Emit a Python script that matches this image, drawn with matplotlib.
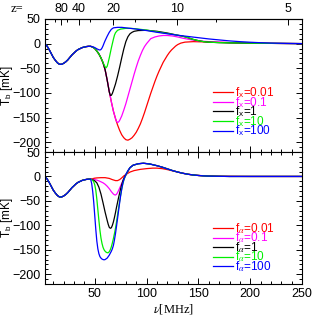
import matplotlib
matplotlib.use("Agg")
import matplotlib.pyplot as plt
import numpy as np
from matplotlib.ticker import MultipleLocator, FixedLocator, NullFormatter

plt.rcParams["font.family"] = ["Liberation Sans", "DejaVu Sans"]
plt.rcParams["mathtext.fontset"] = "stix"
plt.rcParams["axes.linewidth"] = 0.8

# ---- data (nu in MHz, Tb in mK) ----
# all models agree below ~46 MHz
NU_EARLY = [2, 4, 6, 8, 10, 12, 14, 16, 18, 20, 22, 24, 26, 28, 30, 32, 34, 36, 38, 40, 42, 44, 46]
TB_EARLY = [0, -5, -12, -20, -28, -34, -39, -42, -42, -40, -37, -33, -28, -23, -19, -15, -12, -10, -8, -7, -6, -5.5, -5.5]

# top panel: X-ray efficiency f_x
NU_FX001 = [48, 50, 52, 54, 56, 58, 60, 62, 64, 66, 68, 70, 72, 74, 76, 78, 80, 82, 84, 86, 88, 90, 92, 94, 96, 98,
            100, 102, 104, 106, 108, 110, 112, 114, 116, 118, 120, 122, 124, 126, 128, 130, 133, 137, 145, 155, 165,
            180, 200, 220, 250]
TB_FX001 = [-7, -10, -15, -21, -29, -39, -53, -74, -97, -118, -137, -152, -165, -176, -185, -191, -195, -196, -194,
            -191, -186, -180, -172, -163, -152, -140, -127, -114, -101, -89, -77, -66, -56, -47, -38, -31, -24, -18,
            -13, -9, -5, -2, 1, 3, 4, 3.5, 3, 2, 1, 0.5, 0]
NU_FX01 = [48, 50, 52, 54, 56, 58, 60, 62, 64, 66, 68, 70, 71, 72, 73, 74, 76, 78, 80, 82, 84, 86, 88, 90, 92, 94, 96,
           98, 100, 104, 108, 112, 116, 120, 125, 130, 135, 140, 145, 150, 160, 170, 180, 200, 220, 250]
TB_FX01 = [-7, -10, -15, -21, -29, -39, -53, -74, -97, -118, -137, -152, -158, -160, -159, -156, -147, -135, -122,
           -107, -92, -77, -62, -48, -35, -24, -14, -6, 0, 10, 13.5, 15.5, 16.5, 16.5, 15.5, 13.5, 11, 9, 7, 5.5, 4,
           3, 2, 1, 0.5, 0]
NU_FX1 = [48, 50, 52, 54, 56, 58, 60, 62, 63, 64, 65, 66, 67, 68, 70, 72, 74, 76, 78, 80, 82, 84, 86, 88, 92, 100,
          110, 120, 130, 135, 140, 145, 150, 155, 160, 170, 180, 200, 220, 250]
TB_FX1 = [-7, -10, -15, -21, -29, -39, -53, -74, -86, -98, -105, -105, -101, -95, -82, -66, -48, -29, -11, 4, 14, 20,
          23, 25, 26.5, 27, 25, 21.5, 17, 15, 12, 8.5, 6, 4, 3, 2, 1.5, 1, 0.5, 0]
NU_FX10 = [48, 50, 52, 54, 56, 58, 59, 60, 61, 62, 63, 64, 65, 66, 67, 68, 69, 70, 72, 75, 80, 85, 90, 100, 110, 120,
           130, 135, 140, 145, 150, 155, 160, 170, 180, 200, 220, 250]
TB_FX10 = [-7, -10, -15, -21, -29, -38, -43, -47, -49, -46, -38, -29, -19, -9, 0, 9, 17, 22, 27, 29.5, 31, 31, 30,
           27.5, 24, 20.5, 17, 15, 12, 8.5, 6, 4, 3, 2, 1.5, 1, 0.5, 0]
NU_FX100 = [48, 50, 52, 54, 55, 56, 57, 58, 59, 60, 62, 64, 66, 68, 72, 76, 80, 90, 100, 110, 120, 130, 140, 150, 160,
            170, 180, 190, 200, 210, 220, 235, 250]
TB_FX100 = [-6.5, -8, -10.5, -12.5, -13, -12, -9, -4.5, 1, 6, 15, 23, 29, 32, 33, 33, 32, 29.5, 26.5, 23, 20, 17,
            14.5, 12, 9.5, 7.5, 5.5, 4, 2.8, 1.8, 1, 0.4, 0]

# bottom panel: Lyman-alpha efficiency f_alpha
NU_LATE = [84, 87, 92, 97, 103, 110, 115, 120, 125, 130, 135, 140, 145, 150, 155, 160, 170, 180, 250]
TB_LATE = [18, 23, 26, 27, 25.5, 22, 19, 15.5, 12, 9, 6.5, 4.5, 3, 2, 1.2, 0.7, 0.3, 0, 0]
NU_FA001 = [48, 50, 52, 56, 60, 64, 67, 70, 72, 74, 76, 78, 80, 84, 88, 94, 100, 106, 110, 115, 120, 125, 130, 135,
            140, 145, 150, 160, 170, 200, 250]
TB_FA001 = [-4.5, -3.5, -3, -2.5, -2.5, -4, -6.5, -8.5, -8.5, -6.5, -3, 1, 4, 9, 12, 14.5, 16, 17, 17, 16, 14, 11.5,
            9, 6.5, 4.5, 3, 2, 1, 0.5, 0, 0]
NU_FA01 = [48, 50, 52, 54, 56, 58, 60, 62, 64, 66, 68, 69, 70, 71, 72, 74, 76, 78, 80, 82]
TB_FA01 = [-6, -6.5, -7.5, -9, -11, -13, -16, -20, -25, -31, -36, -37.5, -38, -36.5, -33, -24, -14, -5, 2.5, 10]
NU_FA1 = [48, 50, 52, 54, 56, 58, 60, 62, 63, 64, 65, 66, 67, 68, 69, 70, 71, 72, 73, 74, 75, 76, 77, 78, 79, 80, 82]
TB_FA1 = [-7, -9, -13, -22, -36, -54, -73, -90, -98, -104, -106, -105, -100, -93, -84, -74, -63, -53, -43, -34, -25,
          -17, -10, -4, 0, 3.5, 11]
NU_FA10 = [47, 48, 49, 50, 51, 52, 53, 54, 55, 56, 57, 58, 59, 60, 61, 62, 63, 64, 65, 66, 67, 68, 69, 70, 71, 72,
           73, 74, 75, 76, 77, 78, 79, 80, 82]
TB_FA10 = [-6.5, -8, -11, -17, -28, -46, -68, -90, -110, -126, -137, -145, -150, -153, -155, -156, -156, -154, -150,
           -144, -136, -127, -117, -106, -93, -79, -65, -51, -38, -26, -16, -8, -2, 3, 11]
NU_FA100 = [47, 48, 49, 50, 51, 52, 53, 54, 55, 56, 57, 58, 59, 60, 62, 64, 66, 67, 68, 69, 70, 71, 72, 73, 74, 75,
            76, 77, 78, 79, 80, 82]
TB_FA100 = [-14, -30, -52, -80, -108, -132, -148, -158, -164, -167, -169, -170, -170.5, -170, -167, -161, -153, -148,
            -141, -130, -117, -102, -86, -70, -54, -39, -26, -15, -7, -1, 4, 12]

COLORS = ["#ff0000", "#ff00ff", "#000000", "#00ee00", "#0000ff"]
FX_LABELS = [r"f$_\mathregular{x}$=0.01", r"f$_\mathregular{x}$=0.1", r"f$_\mathregular{x}$=1",
             r"f$_\mathregular{x}$=10", r"f$_\mathregular{x}$=100"]
FA_LABELS = [r"f$_\alpha$=0.01", r"f$_\alpha$=0.1", r"f$_\alpha$=1", r"f$_\alpha$=10", r"f$_\alpha$=100"]
Z_MAJOR = [80, 40, 20, 10, 5]
Z_MINOR = [120, 60, 30, 15, 12, 7.5]

top_series = [(NU_FX001, TB_FX001), (NU_FX01, TB_FX01), (NU_FX1, TB_FX1), (NU_FX10, TB_FX10), (NU_FX100, TB_FX100)]
# third item: curve joins the common late-time curve
bot_series = [(NU_FA001, TB_FA001, False), (NU_FA01, TB_FA01, True), (NU_FA1, TB_FA1, True),
              (NU_FA10, TB_FA10, True), (NU_FA100, TB_FA100, True)]


def nu_to_z(nu):
    nu = np.asarray(nu, dtype=float)
    with np.errstate(divide="ignore", invalid="ignore"):
        return 1420.4 / nu - 1.0


def z_to_nu(z):
    z = np.asarray(z, dtype=float)
    with np.errstate(divide="ignore", invalid="ignore"):
        return 1420.4 / (z + 1.0)


fig = plt.figure(figsize=(3.19, 3.19), dpi=100)
ax1 = fig.add_axes([0.141, 0.5235, 0.806, 0.417])
ax2 = fig.add_axes([0.141, 0.1097, 0.806, 0.4138])

for i, (nu, tb) in enumerate(top_series):
    ax1.plot(NU_EARLY + nu, TB_EARLY + tb, color=COLORS[i], lw=0.9, label=FX_LABELS[i])

for i, (nu, tb, late) in enumerate(bot_series):
    if late:
        nu = nu + NU_LATE
        tb = tb + TB_LATE
    ax2.plot(NU_EARLY + nu, TB_EARLY + tb, color=COLORS[i], lw=0.9, label=FA_LABELS[i])

for ax, ly in ((ax1, 0.5), (ax2, 0.475)):
    ax.set_xlim(2, 250)
    ax.set_ylim(-220, 50)
    ax.xaxis.set_major_locator(MultipleLocator(50))
    ax.xaxis.set_minor_locator(MultipleLocator(10))
    ax.yaxis.set_major_locator(MultipleLocator(50))
    ax.yaxis.set_minor_locator(MultipleLocator(10))
    ax.tick_params(which="both", direction="in", right=True, labelsize=9, width=0.7, pad=3)
    ax.tick_params(which="major", length=4)
    ax.tick_params(which="minor", length=2)
    ax.set_ylabel(r"T$_\mathregular{b}$ [mK]", fontsize=8.5)
    ax.yaxis.set_label_coords(-0.118, 0.5)
    ax.legend(loc="upper left", bbox_to_anchor=(0.655, ly), frameon=False, labelcolor="linecolor",
              handlelength=1.7, handletextpad=0.1, labelspacing=-0.42, fontsize=8.5, borderpad=0,
              borderaxespad=0)

ax1.tick_params(which="both", top=False, labelbottom=False)
ax2.tick_params(which="both", top=True)
ax2.set_xlabel(r"$\nu$[MHz]", fontsize=9, family="Liberation Serif", labelpad=1)

secax = ax1.secondary_xaxis("top", functions=(nu_to_z, z_to_nu))
secax.xaxis.set_major_locator(FixedLocator(Z_MAJOR))
secax.xaxis.set_minor_locator(FixedLocator(Z_MINOR))
secax.xaxis.set_minor_formatter(NullFormatter())
secax.set_xticklabels([str(z) for z in Z_MAJOR])
secax.tick_params(which="both", direction="in", labelsize=9, width=0.7, pad=3)
secax.tick_params(which="major", length=4)
secax.tick_params(which="minor", length=2)
ax1.text(-0.135, 1.075, "z=", transform=ax1.transAxes, fontsize=9, family="Liberation Serif",
         ha="left", va="center")

fig.savefig("out.png", dpi=100)
